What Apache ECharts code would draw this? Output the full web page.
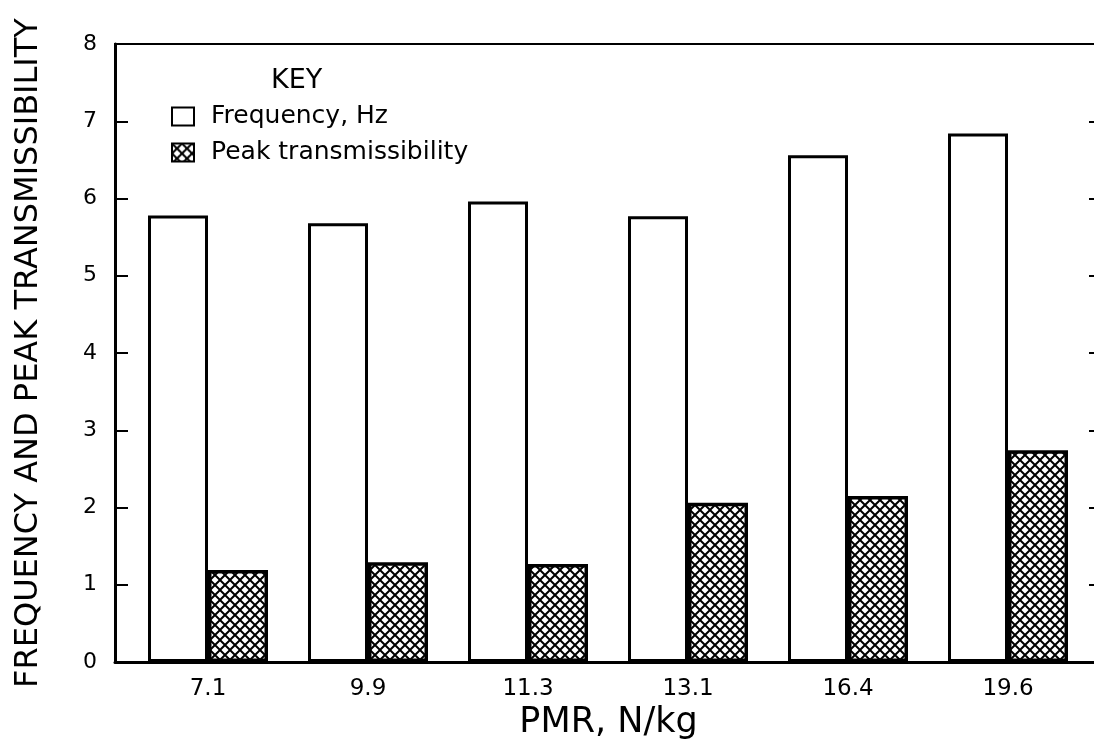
<!DOCTYPE html>
<html>
<head>
<meta charset="utf-8">
<script src="https://cdn.jsdelivr.net/npm/echarts@6/dist/echarts.min.js"></script>
<style>
html,body{margin:0;padding:0;background:#fff;}
#chart{width:1094px;height:747px;}
</style>
</head>
<body>
<div id="chart"></div>
<script>
// ---- data ----
const pmrLabels = ['7.1', '9.9', '11.3', '13.1', '16.4', '19.6'];
const frequencyHz = [5.78, 5.68, 5.96, 5.77, 6.56, 6.84];
const peakTransmissibility = [1.19, 1.29, 1.27, 2.06, 2.15, 2.74];
const yTicks = [0, 1, 2, 3, 4, 5, 6, 7, 8];

const FONT = 'DejaVu Sans';

// cross-hatch pattern
const tile = document.createElement('canvas');
tile.width = 10; tile.height = 10;
const tctx = tile.getContext('2d');
tctx.fillStyle = '#fff';
tctx.fillRect(0, 0, 10, 10);
tctx.strokeStyle = '#000';
tctx.lineWidth = 2;
tctx.beginPath();
tctx.moveTo(-1, -1); tctx.lineTo(11, 11);
tctx.moveTo(11, -1); tctx.lineTo(-1, 11);
tctx.stroke();
const hatch = { image: tile, repeat: 'repeat' };

const freqData = frequencyHz.map((v, i) => [i, v]);
const peakData = peakTransmissibility.map((v, i) => [i, v]);

const chart = echarts.init(document.getElementById('chart'), null, { renderer: 'canvas' });

const yCommon = {
  type: 'value',
  min: 0,
  max: 8,
  interval: 1,
  splitLine: { show: false },
  axisLine: { show: true, onZero: false, lineStyle: { color: '#000', width: 3 } },
  axisTick: { show: true, inside: true, length: 13, lineStyle: { color: '#000', width: 2 } }
};

chart.setOption({
  animation: false,
  backgroundColor: '#fff',
  title: {
    text: 'KEY',
    left: 266,
    top: 62,
    textStyle: { fontFamily: FONT, fontSize: 27, fontWeight: 'normal', color: '#000' }
  },
  legend: {
    orient: 'vertical',
    left: 166,
    top: 99,
    itemWidth: 22,
    itemHeight: 18,
    itemGap: 11,
    icon: 'rect',
    itemStyle: { borderColor: '#000', borderWidth: 2 },
    textStyle: { fontFamily: FONT, fontSize: 25, color: '#000', padding: [0, 0, 0, 12] },
    data: ['Frequency, Hz', 'Peak transmissibility']
  },
  grid: {
    left: 115,
    width: 987,
    top: 44,
    bottom: 85,
    outerBoundsMode: 'none',
    containLabel: false,
    show: true,
    borderColor: '#000',
    borderWidth: 2,
    backgroundColor: 'transparent'
  },
  xAxis: {
    type: 'value',
    min: -0.58125,
    max: 5.5875,
    name: 'PMR, N/kg',
    nameLocation: 'middle',
    nameGap: 40,
    nameTextStyle: { fontFamily: FONT, fontSize: 35, color: '#000' },
    splitLine: { show: false },
    axisLine: { show: true, onZero: false, lineStyle: { color: '#000', width: 3 } },
    axisTick: { show: false },
    axisLabel: {
      customValues: [0, 1, 2, 3, 4, 5],
      formatter: v => pmrLabels[Math.round(v)] || '',
      fontFamily: FONT,
      fontSize: 23,
      color: '#000',
      margin: 16
    }
  },
  yAxis: [
    Object.assign({}, yCommon, {
      position: 'left',
      name: 'FREQUENCY AND PEAK TRANSMISSIBILITY',
      nameLocation: 'middle',
      nameGap: 70,
      nameTextStyle: { fontFamily: FONT, fontSize: 32, color: '#000' },
      axisLabel: { fontFamily: FONT, fontSize: 22, color: '#000', margin: 18,
        customValues: yTicks }
    }),
    Object.assign({}, yCommon, {
      position: 'right',
      axisLabel: { show: false }
    })
  ],
  series: [
    {
      name: 'Frequency, Hz',
      type: 'bar',
      data: freqData,
      barWidth: 60,
      barGap: '0%',
      itemStyle: { color: '#fff', borderColor: '#000', borderWidth: 3 }
    },
    {
      name: 'Peak transmissibility',
      type: 'bar',
      data: peakData,
      barWidth: 60,
      barGap: '0%',
      itemStyle: { color: hatch, borderColor: '#000', borderWidth: 3.5 }
    }
  ]
});
</script>
</body>
</html>
